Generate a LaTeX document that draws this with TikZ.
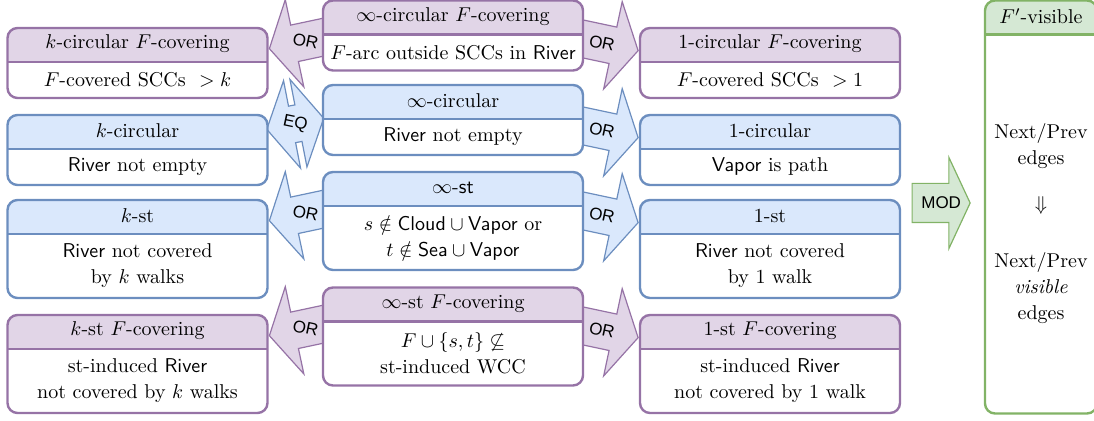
\documentclass[tikz,border=0pt]{standalone}
\usepackage{amsmath}
\usepackage{amssymb}
\usepackage{fontspec}
\newfontfamily\labelfont{Liberation Sans}
\usetikzlibrary{calc,shapes.arrows,backgrounds}
\definecolor{purpleline}{HTML}{9673A6}
\definecolor{purplefill}{HTML}{E1D5E7}
\definecolor{blueline}{HTML}{6C8EBF}
\definecolor{bluefill}{HTML}{DAE8FC}
\definecolor{greenline}{HTML}{82B366}
\definecolor{greenfill}{HTML}{D5E8D4}
\tikzset{
	condbox/.style={
		draw=#1line, fill=white, line width=1.2pt, rounded corners=5pt,
		minimum width=130pt, inner sep=0pt,
		path picture={
			\fill[#1fill, sharp corners]
			(path picture bounding box.north west) rectangle
			([yshift=-17pt]path picture bounding box.north east);
			\draw[#1line, sharp corners]
			([yshift=-17pt]path picture bounding box.north west) --
			([yshift=-17pt]path picture bounding box.north east);
		}
	},
	boxtext/.style={align=center, inner sep=0pt, font=\fontsize{10}{13}\selectfont},
	blockarrow/.style={
		single arrow, draw=#1line, fill=#1fill, line width=0.6pt,
		minimum height=33pt, inner xsep=0pt, inner ysep=9pt,
		single arrow head extend=13pt, single arrow tip angle=120, anchor=tip
	},
	arrowtext/.style={font=\labelfont\fontsize{8.5}{10}\selectfont, inner sep=0pt, rotate=-12},
}

\begin{document}
\begin{tikzpicture}[x=0.5pt, y=-0.5pt]
	\useasboundingbox (0,0) rectangle (1094,421);
	
	% left column
	\node[condbox=purple, minimum height=35pt] (kcircF) at (137.5,63) {};
	\node[boxtext] (kcircF-title) at ([yshift=-8.5pt]kcircF.north) {$k$-circular $F$-covering};
	\node[boxtext] (kcircF-body) at ([yshift=-8.5pt]kcircF.center) {$F$-covered SCCs\ \ $> k$};
	\node[condbox=blue, minimum height=35pt] (kcirc) at (137.5,150) {};
	\node[boxtext] (kcirc-title) at ([yshift=-8.5pt]kcirc.north) {$k$-circular};
	\node[boxtext] (kcirc-body) at ([yshift=-8.5pt]kcirc.center) {\textsf{River} not empty};
	\node[condbox=blue, minimum height=49pt] (kst) at (137.5,249) {};
	\node[boxtext] (kst-title) at ([yshift=-8.5pt]kst.north) {$k$-st};
	\node[boxtext] (kst-body) at ([yshift=-8.5pt]kst.center) {\textsf{River} not covered\\by $k$ walks};
	\node[condbox=purple, minimum height=49pt] (kstF) at (137.5,364) {};
	\node[boxtext] (kstF-title) at ([yshift=-8.5pt]kstF.north) {$k$-st $F$-covering};
	\node[boxtext] (kstF-body) at ([yshift=-8.5pt]kstF.center) {st-induced \textsf{River}\\not covered by $k$ walks};
	
	% middle column
	\node[condbox=purple, minimum height=35pt] (infcircF) at (453,35.5) {};
	\node[boxtext] (infcircF-title) at ([yshift=-8.5pt]infcircF.north) {$\infty$-circular $F$-covering};
	\node[boxtext] (infcircF-body) at ([yshift=-8.5pt]infcircF.center) {$F$-arc outside SCCs in \textsf{River}};
	\node[condbox=blue, minimum height=35pt] (infcirc) at (453,120) {};
	\node[boxtext] (infcirc-title) at ([yshift=-8.5pt]infcirc.north) {$\infty$-circular};
	\node[boxtext] (infcirc-body) at ([yshift=-8.5pt]infcirc.center) {\textsf{River} not empty};
	\node[condbox=blue, minimum height=49pt] (infst) at (453,221) {};
	\node[boxtext] (infst-title) at ([yshift=-8.5pt]infst.north) {$\infty$-\textsf{st}};
	\node[boxtext] (infst-body) at ([yshift=-8.5pt]infst.center) {$s\notin\textsf{Cloud}\cup\textsf{Vapor}$ or\\$t\notin\textsf{Sea}\cup\textsf{Vapor}$};
	\node[condbox=purple, minimum height=49pt] (infstF) at (453,336.5) {};
	\node[boxtext] (infstF-title) at ([yshift=-8.5pt]infstF.north) {$\infty$-st $F$-covering};
	\node[boxtext] (infstF-body) at ([yshift=-8.5pt]infstF.center) {$F\cup\{s,t\}\not\subseteq$\\st-induced WCC};
	
	% right column
	\node[condbox=purple, minimum height=35pt] (onecircF) at (770,63) {};
	\node[boxtext] (onecircF-title) at ([yshift=-8.5pt]onecircF.north) {1-circular $F$-covering};
	\node[boxtext] (onecircF-body) at ([yshift=-8.5pt]onecircF.center) {$F$-covered SCCs\ \ $> 1$};
	\node[condbox=blue, minimum height=35pt] (onecirc) at (770,150) {};
	\node[boxtext] (onecirc-title) at ([yshift=-8.5pt]onecirc.north) {1-circular};
	\node[boxtext] (onecirc-body) at ([yshift=-8.5pt]onecirc.center) {\textsf{Vapor} is path};
	\node[condbox=blue, minimum height=49pt] (onest) at (770,249) {};
	\node[boxtext] (onest-title) at ([yshift=-8.5pt]onest.north) {1-st};
	\node[boxtext] (onest-body) at ([yshift=-8.5pt]onest.center) {\textsf{River} not covered\\by 1 walk};
	\node[condbox=purple, minimum height=49pt] (onestF) at (770,364) {};
	\node[boxtext] (onestF-title) at ([yshift=-8.5pt]onestF.north) {1-st $F$-covering};
	\node[boxtext] (onestF-body) at ([yshift=-8.5pt]onestF.center) {st-induced \textsf{River}\\not covered by 1 walk};
	
	% visible box
	\node[condbox=green, minimum width=56pt, minimum height=206.5pt] (visible) at (1041,207) {};
	\node[boxtext] (visible-title) at ([yshift=-8.5pt]visible.north) {$F'$-visible};
	\node[boxtext] (visible-body) at ([yshift=-8.5pt]visible.center) {Next/Prev\\edges\\[10pt]$\Downarrow$\\[15.5pt]Next/Prev\\\emph{visible}\\edges};
	
	% block arrows behind the boxes
	\begin{pgfonlayer}{background}
		\node[blockarrow=purple, rotate=192] (orA1) at ([yshift=-11pt]kcircF.north east) {};
		\node[blockarrow=purple, rotate=-12] (orA2) at ([yshift=-12pt]onecircF.north west) {};
		\node[double arrow, draw=blueline, fill=bluefill, line width=0.6pt,
			minimum height=29pt, inner xsep=0pt, inner ysep=9pt,
			double arrow head extend=13pt, double arrow tip angle=120, rotate=11]
			(eq) at ($(kcirc.north east)!0.5!(infcirc.north west)+(0,25)$) {};
		\node[blockarrow=blue, rotate=-12] (orB2) at ([yshift=-12pt]onecirc.north west) {};
		\node[blockarrow=blue, rotate=192] (orC1) at ([yshift=-11pt]kst.north east) {};
		\node[blockarrow=blue, rotate=-12] (orC2) at ([yshift=-12pt]onest.north west) {};
		\node[blockarrow=purple, rotate=192] (orD1) at ([yshift=-11pt]kstF.north east) {};
		\node[blockarrow=purple, rotate=-12] (orD2) at ([yshift=-12pt]onestF.north west) {};
		\node[blockarrow=green, minimum height=29pt, inner ysep=9.5pt, single arrow tip angle=130]
			(mod) at ([xshift=-6.5pt, yshift=2pt]visible.west) {};
	\end{pgfonlayer}
	
	\node[arrowtext] (orA1-text) at ($(orA1.tip)!0.56!(orA1.tail)$) {OR};
	\node[arrowtext] (orA2-text) at ($(orA2.tip)!0.56!(orA2.tail)$) {OR};
	\node[arrowtext] (eq-text) at (eq.center) {EQ};
	\node[arrowtext] (orB2-text) at ($(orB2.tip)!0.56!(orB2.tail)$) {OR};
	\node[arrowtext] (orC1-text) at ($(orC1.tip)!0.56!(orC1.tail)$) {OR};
	\node[arrowtext] (orC2-text) at ($(orC2.tip)!0.56!(orC2.tail)$) {OR};
	\node[arrowtext] (orD1-text) at ($(orD1.tip)!0.56!(orD1.tail)$) {OR};
	\node[arrowtext] (orD2-text) at ($(orD2.tip)!0.56!(orD2.tail)$) {OR};
	\node[arrowtext, rotate=12] (mod-text) at ($(mod.tail)!0.5!(mod.tip)$) {MOD};
\end{tikzpicture}
\end{document}
